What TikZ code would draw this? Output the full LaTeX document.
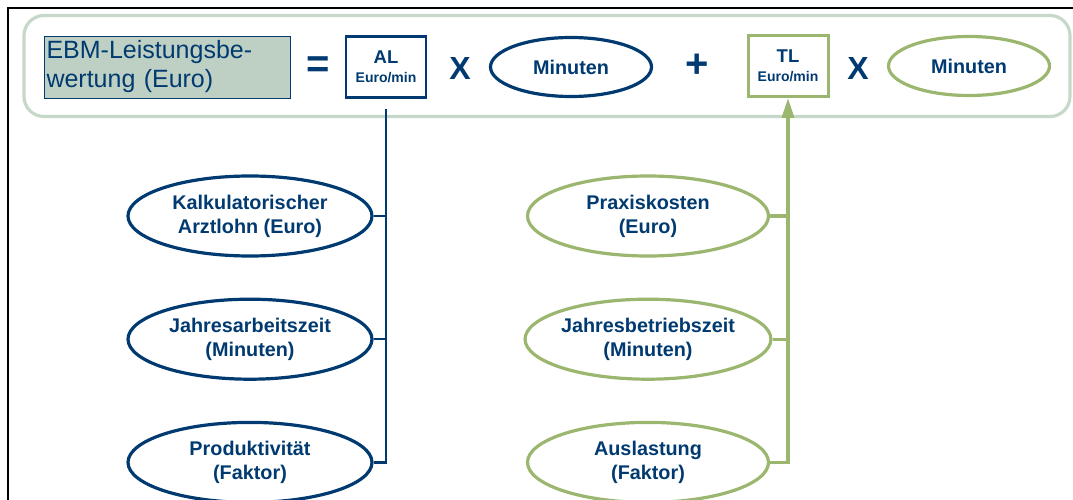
\documentclass[tikz,border=0pt]{standalone}
\usepackage{fontspec}
\setmainfont{Liberation Sans}
\usetikzlibrary{shapes.geometric,positioning,arrows.meta,calc}
\definecolor{ebmblue}{RGB}{0,58,112}
\definecolor{ebmgreen}{RGB}{155,182,110}
\definecolor{framegreen}{RGB}{198,216,202}
\definecolor{boxfill}{RGB}{190,208,196}

\begin{document}
\begin{tikzpicture}[x=1pt,y=-1pt,text=ebmblue,align=center,inner sep=0pt,
	bigsign/.style={font=\fontsize{40}{40}\selectfont\bfseries},
	factor/.style={shape=rectangle,draw,line width=2.6pt,minimum width=80pt,minimum height=61pt,font=\fontsize{18.5}{19}\selectfont\bfseries},
	term/.style={shape=ellipse,draw,line width=3.2pt,font=\fontsize{19.8}{24}\selectfont\bfseries},
	bluepart/.style={term,draw=ebmblue,minimum width=244pt,minimum height=80pt},
	greenpart/.style={term,draw=ebmgreen,minimum width=241pt,minimum height=80pt}]
	\useasboundingbox (0,0) rectangle (1073,500);
	%% frame of the slide
	\draw[line width=2.5pt] (8,500) -- (8,8) -- (1073,8);
	%% formula row
	\node (row) [draw=framegreen,line width=3.2pt,rounded corners=20pt,minimum width=1046pt,minimum height=101pt] at (547,66) {};
	\node (ebm) [fill=boxfill,draw=ebmblue,line width=0.6pt,minimum width=246pt,minimum height=62pt,align=left,text width=241pt,font=\fontsize{25}{29}\selectfont] at (167,67)
	{EBM-Leistungsbe-\\wertung (Euro)};
	\node (eq) [bigsign] at (318,67) {=};
	\node (al) [factor,draw=ebmblue] at (386,67)
	{AL\\{\fontsize{14}{15}\selectfont Euro/min}};
	\node (times1) [bigsign,font=\fontsize{32}{32}\selectfont\bfseries] at (460,68) {X};
	\node (min1) [term,draw=ebmblue,minimum width=161pt,minimum height=59pt] at (571,67) {Minuten};
	\node (plus) [bigsign] at (697,66) {+};
	\node (tl) [factor,draw=ebmgreen,line width=3pt] at (788,66)
	{TL\\{\fontsize{14}{15}\selectfont Euro/min}};
	\node (times2) [bigsign,font=\fontsize{32}{32}\selectfont\bfseries] at (858,68) {X};
	\node (min2) [term,draw=ebmgreen,minimum width=161pt,minimum height=59pt] at (969,66) {Minuten};

	%% Arztlohn side
	\node (lohn) [bluepart] at (250,216) {Kalkulatorischer\\Arztlohn (Euro)};
	\node (arbzeit) [bluepart,below=40pt of lohn] {Jahresarbeitszeit\\(Minuten)};
	\node (prod) [bluepart,below=40pt of arbzeit] {Produktivit\"at\\(Faktor)};
	\coordinate (alfoot) at (386,109);
	\draw[ebmblue,line width=2.2pt] (alfoot) |- (prod.east);
	\draw[ebmblue,line width=2.2pt] (lohn.east) -- (lohn.east -| alfoot);
	\draw[ebmblue,line width=2.2pt] (arbzeit.east) -- (arbzeit.east -| alfoot);

	%% technische Leistung side
	\node (praxis) [greenpart] at (648,216) {Praxiskosten\\(Euro)};
	\node (betrzeit) [greenpart,below=40pt of praxis] {Jahresbetriebszeit\\(Minuten)};
	\node (ausl) [greenpart,below=40pt of betrzeit] {Auslastung\\(Faktor)};
	\draw[ebmgreen,line width=3.4pt,-{Triangle[length=20pt,width=12pt]}] (ausl.east) -| (tl.south);
	\draw[ebmgreen,line width=3.4pt] (praxis.east) -- (praxis.east -| tl.south);
	\draw[ebmgreen,line width=3.4pt] (betrzeit.east) -- (betrzeit.east -| tl.south);
\end{tikzpicture}
\end{document}
